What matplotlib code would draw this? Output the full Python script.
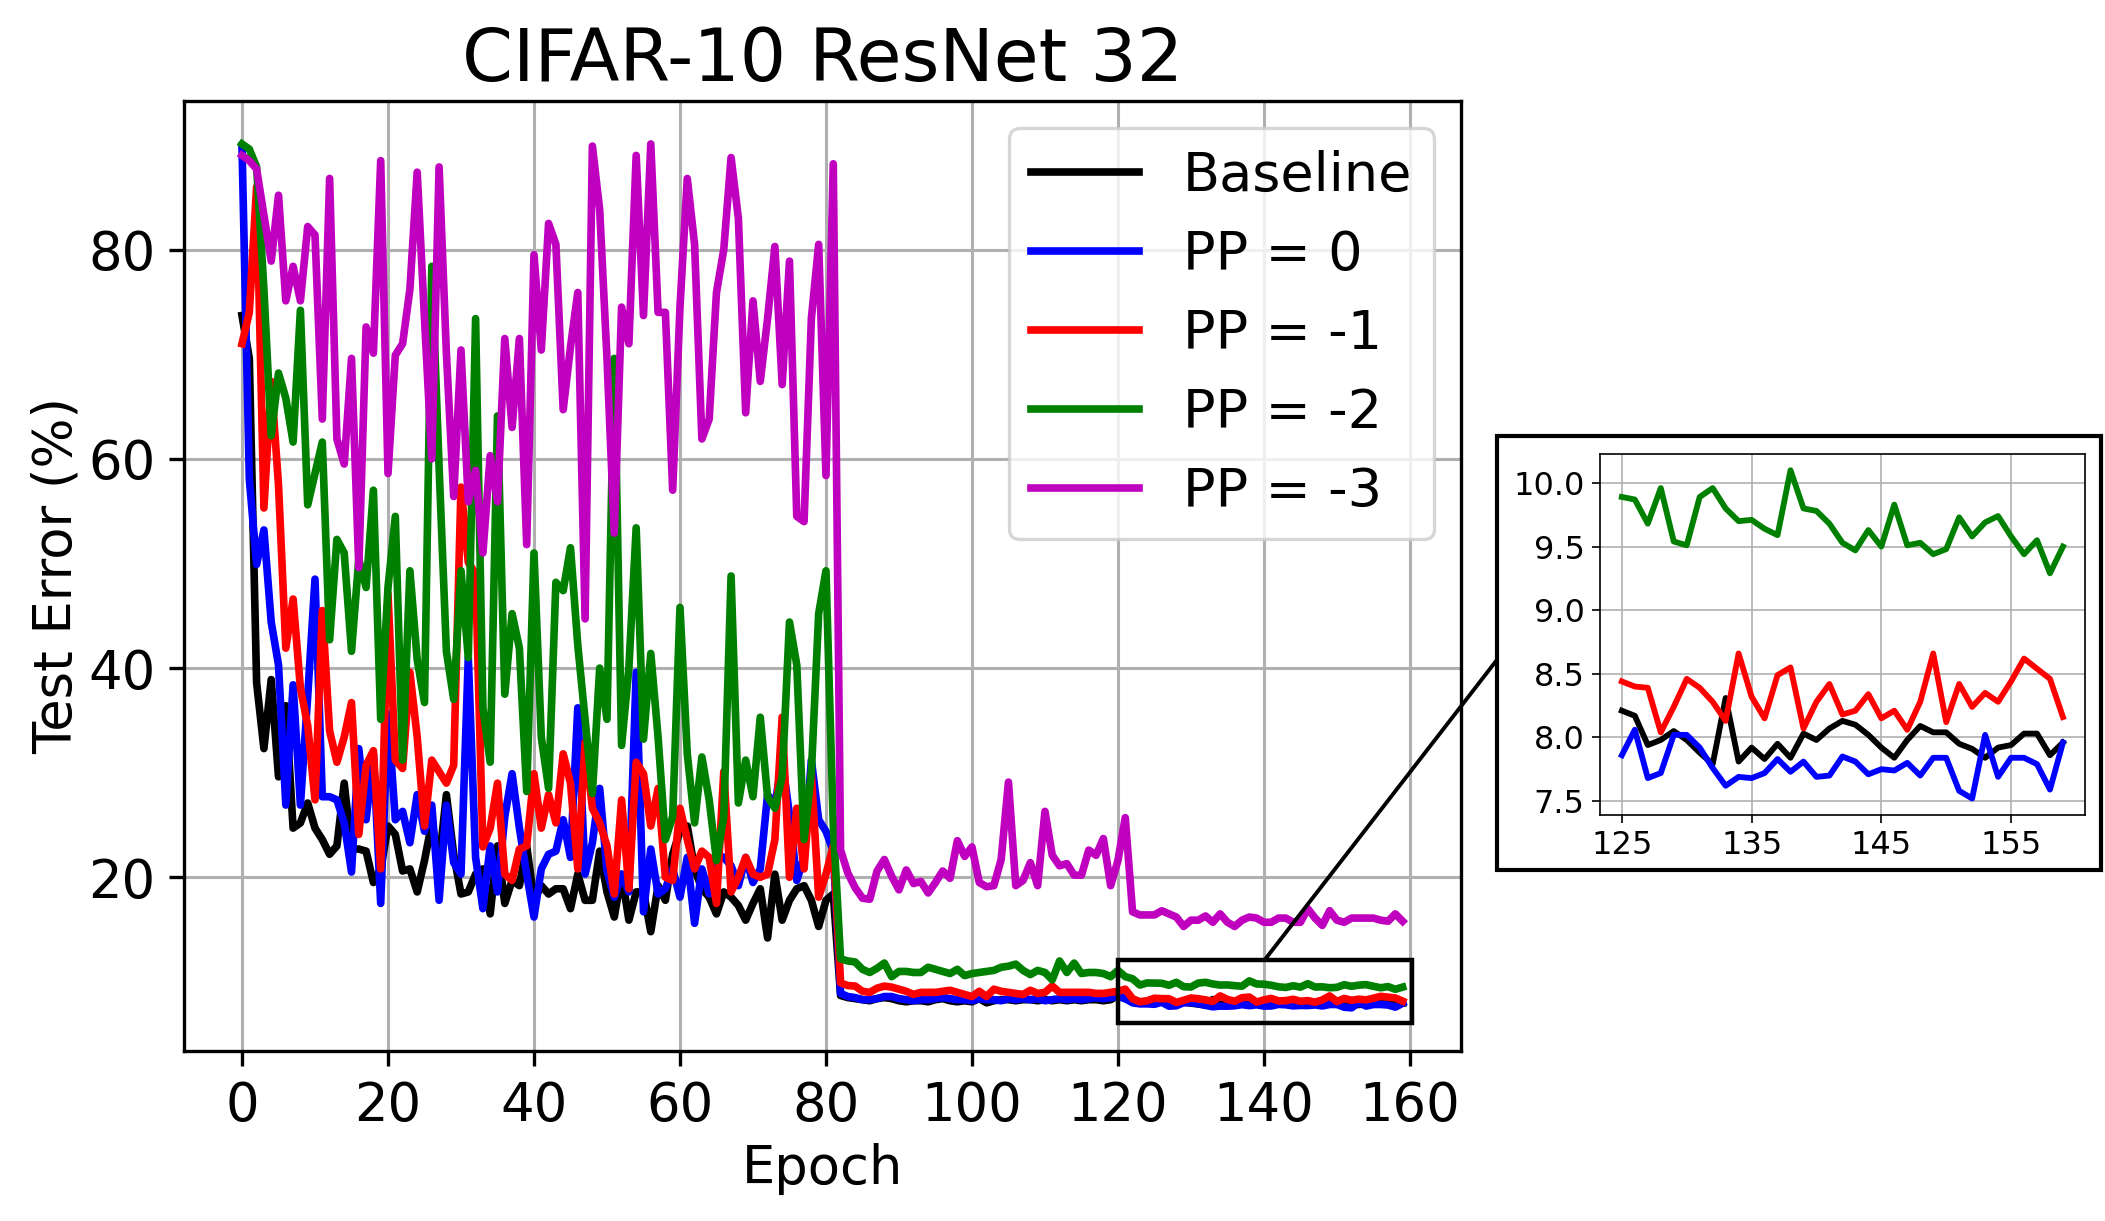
import numpy as np
import matplotlib
matplotlib.use("Agg")
import matplotlib.pyplot as plt
from matplotlib.patches import Rectangle, ConnectionPatch

epochs = np.arange(160)

baseline = [73.7, 69.6, 38.6, 32.3, 38.9, 29.6, 36.4, 24.7, 25.2, 27.1,
            24.7, 23.6, 22.2, 23.0, 29.0, 22.7, 22.7, 22.5, 19.5, 20.8,
            24.9, 24.1, 20.6, 20.8, 18.6, 21.6, 25.2, 21.4, 27.9, 22.2,
            18.4, 18.6, 20.3, 20.8, 16.5, 23.0, 17.5, 19.7, 19.2, 23.0,
            17.8, 19.2, 18.4, 18.9, 18.9, 17.0, 20.3, 17.8, 17.8, 22.5,
            18.6, 16.2, 20.3, 15.9, 18.6, 18.6, 14.8, 19.2, 17.8, 22.2,
            24.4, 24.9, 20.8, 18.9, 18.1, 16.5, 18.6, 18.1, 17.3, 15.9,
            17.5, 18.9, 14.2, 20.3, 15.9, 17.8, 18.9, 19.2, 17.8, 15.3,
            17.8, 18.4,
            8.7, 8.5, 8.4, 8.3, 8.2, 8.4, 8.5, 8.4, 8.2, 8.1,
            8.2, 8.2, 8.1, 8.3, 8.4, 8.2, 8.1, 8.2, 8.1, 8.4,
            8.0, 8.2, 8.3, 8.3, 8.2, 8.3, 8.3, 8.2, 8.3, 8.2,
            8.3, 8.2, 8.3, 8.2, 8.3, 8.3, 8.2, 8.3, 8.7, 8.4,
            8.2, 8.1, 8.1,
            8.21, 8.17, 7.94, 7.98, 8.05, 7.98, 7.88, 7.79, 8.31, 7.81,
            7.92, 7.83, 7.95, 7.84, 8.03, 7.98, 8.07, 8.13, 8.10, 8.02,
            7.92, 7.84, 7.98, 8.09, 8.04, 8.04, 7.95, 7.91, 7.84, 7.92,
            7.94, 8.03, 8.03, 7.86, 7.96]

pp_0 = [89.9, 58.1, 49.9, 53.2, 44.4, 40.3, 26.9, 38.4, 26.9, 37.3,
        48.5, 27.7, 27.7, 27.4, 25.2, 20.5, 32.3, 25.5, 31.8, 17.5,
        35.6, 25.5, 26.3, 23.3, 27.9, 24.4, 26.9, 17.8, 26.9, 21.4,
        20.3, 41.0, 21.9, 17.0, 23.0, 18.6, 25.8, 29.9, 24.7, 20.3,
        16.2, 20.8, 22.2, 22.5, 25.5, 21.9, 36.2, 20.3, 23.3, 28.5,
        20.6, 18.1, 20.3, 18.6, 39.6, 16.7, 22.7, 18.4, 18.9, 20.8,
        18.1, 21.9, 15.6, 20.8, 18.4, 22.2, 21.9, 21.1, 19.2, 21.9,
        19.5, 20.8, 27.9, 26.9, 31.2, 26.0, 19.7, 21.9, 31.2, 25.5,
        24.4, 22.5,
        8.9, 8.6, 8.5, 8.3, 8.3, 8.4, 8.6, 8.6, 8.4, 8.3,
        8.2, 8.3, 8.3, 8.4, 8.5, 8.4, 8.3, 8.3, 8.2, 8.4,
        8.3, 8.3, 8.2, 8.4, 8.3, 8.4, 8.3, 8.4, 8.2, 8.3,
        8.4, 8.3, 8.4, 8.3, 8.4, 8.5, 8.4, 8.5, 8.6, 8.4,
        8.0, 7.9, 7.9,
        7.86, 8.06, 7.68, 7.72, 8.02, 8.02, 7.92, 7.76, 7.62, 7.69,
        7.68, 7.72, 7.83, 7.73, 7.81, 7.69, 7.70, 7.85, 7.81, 7.71,
        7.75, 7.74, 7.80, 7.70, 7.84, 7.84, 7.58, 7.52, 8.02, 7.69,
        7.84, 7.84, 7.79, 7.59, 7.96]

pp_m1 = [71.0, 74.0, 86.0, 55.3, 67.4, 57.5, 41.9, 46.6, 38.1, 34.5,
         27.4, 45.5, 34.0, 31.0, 33.4, 36.7, 24.1, 30.7, 32.1, 20.8,
         47.1, 31.2, 30.4, 39.6, 33.4, 24.9, 31.2, 30.1, 29.0, 30.7,
         57.3, 50.1, 49.0, 22.9, 24.7, 29.0, 20.3, 19.7, 22.7, 23.0,
         29.9, 24.7, 27.9, 25.2, 31.8, 29.0, 20.8, 32.9, 26.6, 25.2,
         23.0, 18.4, 27.4, 18.9, 31.0, 29.9, 24.9, 28.5, 20.0, 19.7,
         26.6, 23.6, 20.8, 22.5, 21.9, 17.5, 30.1, 18.6, 20.0, 21.9,
         20.3, 20.0, 20.3, 23.6, 35.3, 20.0, 26.6, 20.8, 29.9, 18.1,
         20.3, 23.0,
         9.9, 9.65, 9.6, 9.1, 9.0, 9.4, 9.6, 9.5, 9.3, 9.1,
         8.8, 9.0, 9.0, 9.0, 9.1, 9.2, 9.0, 8.8, 8.6, 9.1,
         8.6, 9.3, 9.1, 9.0, 8.9, 8.8, 9.2, 8.9, 9.0, 9.6,
         9.0, 9.0, 9.0, 9.0, 9.0, 8.9, 8.9, 9.0, 9.1, 9.3,
         8.4, 8.1, 8.2,
         8.44, 8.40, 8.39, 8.04, 8.24, 8.46, 8.39, 8.28, 8.13, 8.66,
         8.32, 8.15, 8.49, 8.55, 8.07, 8.28, 8.42, 8.18, 8.21, 8.34,
         8.15, 8.21, 8.06, 8.28, 8.66, 8.12, 8.42, 8.24, 8.35, 8.28,
         8.44, 8.62, 8.54, 8.46, 8.16]

pp_m2 = [90.1, 89.6, 87.9, 76.2, 62.2, 68.2, 65.8, 61.6, 74.2, 55.6,
         58.6, 61.6, 42.7, 52.3, 51.0, 41.6, 50.4, 47.7, 57.0, 35.1,
         47.7, 54.5, 31.2, 49.3, 40.8, 36.7, 78.4, 59.2, 41.6, 37.0,
         49.3, 41.0, 73.4, 36.2, 31.0, 64.1, 37.5, 45.2, 41.9, 28.2,
         51.0, 33.4, 28.5, 48.2, 47.4, 51.5, 42.2, 35.1, 28.0, 40.0,
         35.1, 69.6, 32.6, 40.0, 53.4, 33.2, 41.4, 33.4, 23.6, 25.8,
         45.8, 31.8, 25.2, 31.5, 27.4, 21.6, 25.8, 48.8, 27.1, 31.2,
         27.7, 35.3, 27.7, 26.6, 29.6, 44.4, 40.3, 23.6, 30.0, 45.2,
         49.3, 25.0,
         12.2, 12.0, 11.9, 11.2, 10.9, 11.3, 11.8, 10.5, 11.0, 11.0,
         10.9, 10.9, 11.4, 11.2, 11.0, 10.8, 11.2, 10.6, 10.8, 10.9,
         11.0, 11.1, 11.4, 11.5, 11.7, 11.1, 10.7, 11.1, 10.9, 10.2,
         12.0, 10.9, 11.8, 10.8, 10.9, 10.9, 10.8, 10.5, 11.1, 10.5,
         10.3, 9.7, 9.9,
         9.89, 9.87, 9.68, 9.96, 9.54, 9.51, 9.89, 9.96, 9.80, 9.70,
         9.71, 9.64, 9.59, 10.10, 9.80, 9.78, 9.68, 9.53, 9.47, 9.63,
         9.50, 9.83, 9.51, 9.53, 9.44, 9.48, 9.73, 9.58, 9.69, 9.74,
         9.58, 9.44, 9.55, 9.29, 9.50]

pp_m3 = [89.0, 88.5, 87.7, 83.3, 78.9, 85.2, 75.1, 78.4, 75.1, 82.2,
         81.4, 63.8, 86.8, 61.9, 59.5, 69.6, 49.6, 72.6, 70.1, 88.5,
         58.6, 69.9, 71.0, 76.2, 87.4, 73.4, 60.0, 87.9, 70.1, 56.4,
         70.4, 55.9, 58.9, 51.0, 60.3, 55.9, 71.5, 63.0, 71.5, 51.8,
         79.5, 70.4, 82.5, 80.5, 64.7, 70.7, 75.9, 44.7, 89.9, 83.8,
         69.6, 52.9, 74.5, 71.0, 89.0, 73.7, 90.1, 74.0, 74.0, 57.0,
         74.5, 86.8, 80.5, 61.9, 63.8, 75.9, 80.0, 88.8, 83.0, 64.4,
         75.1, 67.4, 73.4, 80.3, 67.1, 78.9, 54.5, 54.0, 73.4, 80.5,
         58.4, 88.2,
         22.6, 20.4, 19.0, 18.0, 17.9, 20.6, 21.7, 20.1, 18.8, 20.7,
         19.4, 19.6, 18.5, 19.5, 20.6, 19.9, 23.5, 22.0, 22.9, 19.5,
         19.1, 19.2, 21.7, 29.1, 19.2, 19.7, 21.4, 19.2, 26.3, 22.1,
         21.1, 21.3, 20.2, 20.2, 22.6, 22.1, 23.7, 19.2, 21.6, 25.7,
         16.7, 16.4, 16.4,
         16.4, 16.8, 16.5, 16.2, 15.3, 15.9, 15.9, 16.3, 15.7, 16.5,
         15.7, 15.3, 15.9, 16.2, 16.1, 15.7, 15.7, 16.1, 16.1, 15.7,
         15.7, 17.0, 16.1, 15.4, 16.8, 15.9, 15.7, 16.1, 16.1, 16.1,
         16.1, 15.9, 15.8, 16.5, 15.8]

series = [baseline, pp_0, pp_m1, pp_m2, pp_m3]
labels = ["Baseline", "PP = 0", "PP = -1", "PP = -2", "PP = -3"]
colors = ["k", "b", "r", "g", "m"]
x_ticks = [0, 20, 40, 60, 80, 100, 120, 140, 160]
y_ticks = [20, 40, 60, 80]
inset_start = 125
inset_xticks = [125, 135, 145, 155]
inset_yticks = [7.5, 8.0, 8.5, 9.0, 9.5, 10.0]
zoom_box = (120, 6.1, 40.3, 6.0)   # x, y, width, height of marked region
zoom_anchor = (140.1, 12.1)

for s in series:
    assert len(s) == 160, len(s)

plt.rcParams['font.family'] = ['DejaVu Sans']
plt.rcParams['axes.linewidth'] = 2.4
plt.rcParams['xtick.major.size'] = 10.5
plt.rcParams['ytick.major.size'] = 10.5
plt.rcParams['xtick.major.width'] = 2.4
plt.rcParams['ytick.major.width'] = 2.4
plt.rcParams['xtick.major.pad'] = 10
plt.rcParams['ytick.major.pad'] = 10
plt.rcParams['grid.color'] = '#b0b0b0'
plt.rcParams['grid.linewidth'] = 2.2

fig = plt.figure(figsize=(21.05, 12.21), dpi=100)
ax = fig.add_axes([0.0874, 0.1392, 0.6065, 0.7783])

for s, lab, c in zip(series, labels, colors):
    ax.plot(epochs, s, color=c, lw=5.5, label=lab)

ax.set_xticks(x_ticks)
ax.set_yticks(y_ticks)
ax.tick_params(labelsize=38)
ax.set_xlabel("Epoch", fontsize=38, labelpad=8)
ax.set_ylabel("Test Error (%)", fontsize=38)
ax.set_title("CIFAR-10 ResNet 32", fontsize=52.5, pad=14)
ax.grid(True)
leg = ax.legend(loc="upper right", fontsize=39, handlelength=2.0)
leg.get_frame().set_linewidth(2.4)

rect = Rectangle((zoom_box[0], zoom_box[1]), zoom_box[2], zoom_box[3],
                 fill=False, edgecolor='k', lw=3.2, transform=ax.transData, zorder=5)
ax.add_artist(rect)

# inset
axin = fig.add_axes([0.760, 0.3326, 0.2305, 0.2957])
for s, c in zip(series[:4], colors[:4]):
    axin.plot(epochs[inset_start:], s[inset_start:], color=c, lw=4.2)
axin.set_xticks(inset_xticks)
axin.set_yticks(inset_yticks)
axin.tick_params(labelsize=23, width=1.2, length=6, pad=5)
for sp in axin.spines.values():
    sp.set_linewidth(1.2)
axin.grid(True, lw=1.2)

box = Rectangle((0.7111, 0.2875), 0.2869, 0.3552, fill=False, edgecolor='k',
                lw=3.0, transform=fig.transFigure)
fig.add_artist(box)

con = ConnectionPatch(xyA=zoom_anchor, coordsA=ax.transData,
                      xyB=(0.7111, 0.4595), coordsB=fig.transFigure,
                      color='k', lw=2.8)
fig.add_artist(con)

fig.savefig("out.png", dpi=100)
